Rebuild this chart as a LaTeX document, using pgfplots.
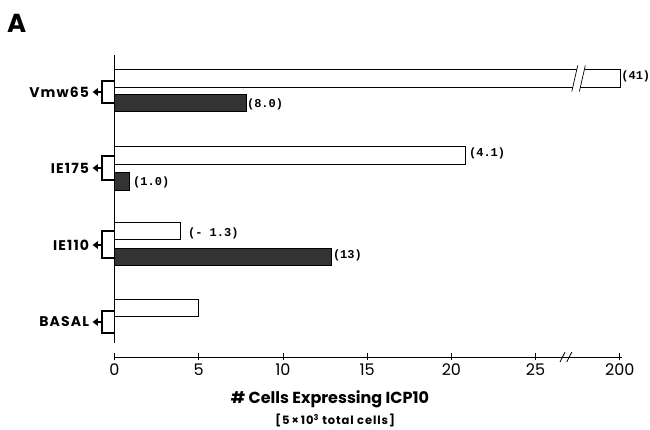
\documentclass[border=0pt]{standalone}
\usepackage{fontspec}
\setmainfont{Poppins}
\newfontfamily\annfont{Liberation Mono}
\newfontfamily\spfont[LetterSpace=8]{Poppins}
\usepackage{pgfplots}
\pgfplotsset{compat=1.18}
\newcommand{\brk}[4]{%
  \draw[line width=1.3pt] (axis cs:0,#1) -- (axis cs:-0.74,#1) -- (axis cs:-0.74,#2) -- (axis cs:0,#2);
  \draw[line width=1.3pt] (axis cs:-0.74,#3) -- (axis cs:-0.98,#3);
  \fill (axis cs:-0.98,#3+4) -- (axis cs:-1.3,#3) -- (axis cs:-0.98,#3-4) -- cycle;
  \node[anchor=east, inner sep=0, font=\spfont\fontsize{14}{15}\selectfont\bfseries] at (axis cs:-1.5,#3) {#4};
}
\begin{document}
\begin{tikzpicture}
\path[use as bounding box, fill=white] (0pt,0pt) rectangle (650pt,430pt);
\node[anchor=base west, font=\fontsize{26}{26}\selectfont\bfseries, inner sep=0] at (7pt,397pt) {A};
\begin{axis}[
  at={(114.5pt,73pt)}, anchor=south west, scale only axis,
  width=507pt, height=302pt,
  xmin=0, xmax=30.1, ymin=0, ymax=302,
  xbar, bar shift=0pt, bar width=17.5,
  axis x line=bottom, axis y line=none,
  axis line style={-, line width=0.8pt},
  xtick={0,5,10,15,20,25,30}, xticklabels={0,5,10,15,20,25,200},
  ytick=\empty,
  tick align=center, major tick length=7pt,
  tick style={line width=0.8pt, black},
  xticklabel style={font=\fontsize{16}{17}\selectfont},
  clip=false,
]
% white bars (Vmw65 at 200 drawn at broken-axis position 30)
\addplot[draw=black, fill=white, line width=0.6pt] coordinates {(30,278.5) (20.8,201.5) (3.9,126) (5.0,49)};
% black bars
\addplot[draw=black, fill=black!80, line width=0.6pt] coordinates {(7.8,254) (0.9,175.5) (12.9,100) (0,23)};
% y axis line
\draw[line width=1pt] (axis cs:0,14) -- (axis cs:0,302);
% break in Vmw65 bar
\fill[white] (axis cs:27.15,265.5) -- (axis cs:27.5,291.5) -- (axis cs:27.95,291.5) -- (axis cs:27.6,265.5) -- cycle;
\draw[line width=0.7pt] (axis cs:27.15,265.5) -- (axis cs:27.5,291.5);
\draw[line width=0.7pt] (axis cs:27.6,265.5) -- (axis cs:27.95,291.5);
% axis break
\draw[line width=0.8pt] (axis cs:26.45,-5) -- (axis cs:26.75,5);
\draw[line width=0.8pt] (axis cs:26.85,-5) -- (axis cs:27.15,5);
% brackets and category labels
\brk{276}{254}{265}{Vmw65}
\brk{201}{177}{189}{IE175}
\brk{126}{99}{112}{IE110}
\brk{46}{24}{35}{BASAL}
% annotations
\begin{scope}[every node/.style={anchor=west, inner sep=0, font=\annfont\fontsize{12}{13}\selectfont\bfseries}]
\node at (axis cs:30.08,281) {(41)};
\node at (axis cs:7.86,253) {(8.0)};
\node at (axis cs:21.04,204) {(4.1)};
\node at (axis cs:1.1,175) {(1.0)};
\node at (axis cs:4.36,124) {(- 1.3)};
\node at (axis cs:12.96,102) {(13)};
\end{scope}
% axis title
\node[font=\fontsize{16}{17}\selectfont\bfseries] at (axis cs:12.79,-42) {\#\ Cells Expressing ICP10};
\node[font=\spfont\fontsize{11.5}{12}\selectfont\bfseries] at (axis cs:13.1,-63.5) {[5\,×\,10\textsuperscript{3} total cells]};
\end{axis}
\end{tikzpicture}
\end{document}
